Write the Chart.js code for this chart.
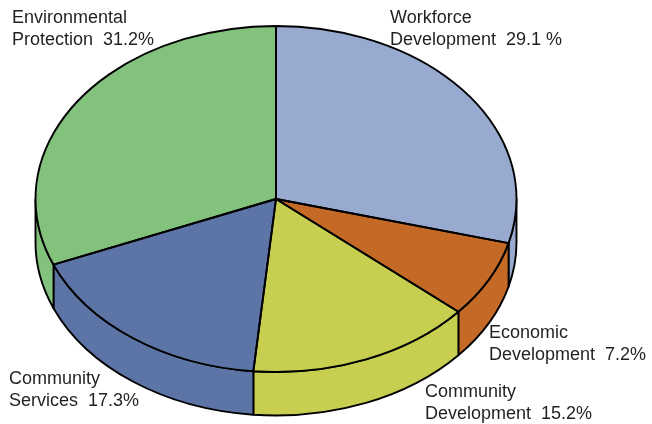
<!DOCTYPE html>
<html>
<head>
<meta charset="utf-8">
<title>Program funding shares</title>
<script src="https://cdn.jsdelivr.net/npm/chart.js@4"></script>
<style>
  html, body { margin: 0; padding: 0; background: #ffffff; }
  canvas { display: block; }
</style>
</head>
<body>
<canvas id="pie" width="652" height="424"></canvas>
<script>
// Program shares, in percent, clockwise from twelve o'clock
const categories = ["Workforce Development", "Economic Development", "Community Development", "Community Services", "Environmental Protection"];
const shares = [29.1, 7.2, 15.2, 17.3, 31.2];
const sliceColors = ["#98aacf", "#c56a26", "#c8cf50", "#5d74a6", "#82c27d"];
const labelLines = [
  ["Workforce", "Development  29.1 %"],
  ["Economic", "Development  7.2%"],
  ["Community", "Development  15.2%"],
  ["Community", "Services  17.3%"],
  ["Environmental", "Protection  31.2%"]
];
const labelAnchors = [[390, 23], [489, 338], [425, 397], [9, 384], [12, 23]];

// Tilted-disc geometry
const disc = { cx: 276, cy: 199, rx: 240.5, ry: 173, depth: 43.5 };
const outlineWidth = 1.9;
const outlineColor = "#000000";
const labelFont = "18px 'Liberation Sans', Arial, sans-serif";
const labelColor = "#231f20";
const lineStep = 22;

// Draws the pie flattened into an ellipse with a solid rim below it
const tiltedDisc = {
  id: "tiltedDisc",
  beforeDatasetsDraw(chart) {
    const ctx = chart.ctx;
    const arcs = chart.getDatasetMeta(0).data;

    // Only the front half of the rim faces the viewer
    arcs.forEach((arc, i) => {
      const from = Math.max(arc.startAngle, 0);
      const to = Math.min(arc.endAngle, Math.PI);
      if (to <= from) return;
      ctx.beginPath();
      ctx.ellipse(disc.cx, disc.cy, disc.rx, disc.ry, 0, from, to);
      ctx.ellipse(disc.cx, disc.cy + disc.depth, disc.rx, disc.ry, 0, to, from, true);
      ctx.closePath();
      ctx.fillStyle = sliceColors[i];
      ctx.fill();
      ctx.lineWidth = outlineWidth;
      ctx.strokeStyle = outlineColor;
      ctx.lineJoin = "round";
      ctx.stroke();
    });

    // Squash the circular arcs onto the disc's top face
    const first = arcs[0];
    ctx.save();
    ctx.translate(disc.cx, disc.cy);
    ctx.scale(disc.rx / first.outerRadius, disc.ry / first.outerRadius);
    ctx.translate(-first.x, -first.y);
  },
  afterDatasetsDraw(chart) {
    const ctx = chart.ctx;
    ctx.restore();

    // Outlines are stroked untransformed so their weight stays even
    chart.getDatasetMeta(0).data.forEach((arc) => {
      ctx.beginPath();
      ctx.moveTo(disc.cx, disc.cy);
      ctx.ellipse(disc.cx, disc.cy, disc.rx, disc.ry, 0, arc.startAngle, arc.endAngle);
      ctx.closePath();
      ctx.lineWidth = outlineWidth;
      ctx.strokeStyle = outlineColor;
      ctx.lineJoin = "round";
      ctx.stroke();
    });

    ctx.font = labelFont;
    ctx.fillStyle = labelColor;
    ctx.textAlign = "left";
    ctx.textBaseline = "alphabetic";
    labelLines.forEach((lines, i) => {
      lines.forEach((line, j) => {
        ctx.fillText(line, labelAnchors[i][0], labelAnchors[i][1] + j * lineStep);
      });
    });
  }
};

new Chart(document.getElementById("pie"), {
  type: "pie",
  data: {
    labels: categories,
    datasets: [{
      data: shares,
      backgroundColor: sliceColors,
      borderWidth: 0,
      clip: false
    }]
  },
  options: {
    responsive: false,
    animation: false,
    layout: { padding: 0 },
    plugins: {
      legend: { display: false },
      title: { display: false },
      tooltip: { enabled: false }
    }
  },
  plugins: [tiltedDisc]
});
</script>
</body>
</html>
